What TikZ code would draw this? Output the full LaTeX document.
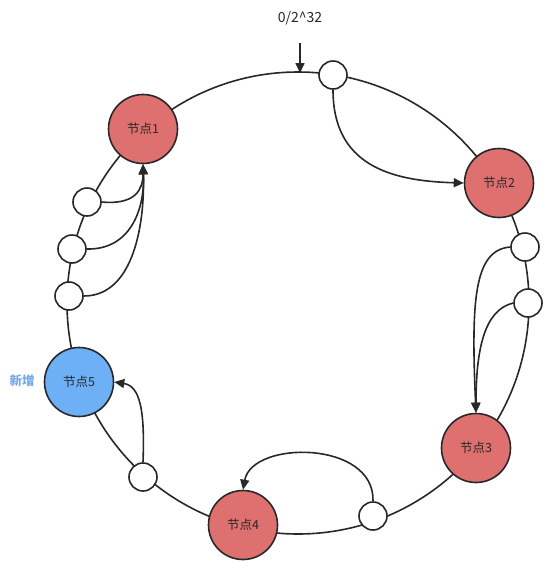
\documentclass[tikz,border=0pt]{standalone}
\usepackage{fontspec}
\newfontfamily\cjk{Noto Sans CJK SC}
\usetikzlibrary{arrows.meta}
\definecolor{nodered}{RGB}{222,112,112}
\definecolor{nodeblue}{RGB}{110,176,245}
\definecolor{lblblue}{RGB}{120,168,228}
\definecolor{ink}{RGB}{40,40,40}
\begin{document}
\begin{tikzpicture}[x=1pt,y=-1pt,
  hashnode/.style={circle, draw=ink, line width=1.6pt, minimum size=69pt, inner sep=0pt,
    font=\cjk\fontsize{12.5}{14}\selectfont, text=ink},
  vnode/.style={circle, draw=ink, line width=1.6pt, fill=white, minimum size=28pt, inner sep=0pt},
  ring/.style={draw=ink, line width=1.6pt},
  link/.style={draw=ink, line width=1.6pt, -{Triangle[length=10pt,width=9pt]}},
  lbl/.style={font=\cjk\fontsize{12.5}{14}\selectfont, text=ink, inner sep=0pt}]
\useasboundingbox (0,0) rectangle (552,571);
\draw[ring] (298,303) circle[radius=231pt];
% hash nodes
\node[hashnode, fill=nodered] (n1) at (143,129) {节点1};
\node[hashnode, fill=nodered] (n2) at (499,183) {节点2};
\node[hashnode, fill=nodered] (n3) at (476,448) {节点3};
\node[hashnode, fill=nodered] (n4) at (243,525) {节点4};
\node[hashnode, fill=nodeblue] (n5) at (79,382) {节点5};
% virtual / data points
\node[vnode] (s0) at (333,75) {};
\node[vnode] (s1) at (525,247) {};
\node[vnode] (s2) at (528,303) {};
\node[vnode] (s3) at (373,516) {};
\node[vnode] (s4) at (143,477) {};
\node[vnode] (s5) at (87,202) {};
\node[vnode] (s6) at (72,249) {};
\node[vnode] (s7) at (69,296) {};
% labels
\node[lbl, font=\cjk\fontsize{14}{16}\selectfont] (top) at (300,18) {0/2\^{}32};
\node[lbl, text=lblblue, font=\cjk\bfseries\fontsize{12.5}{14}\selectfont] (add) at (22,381) {新增};
\coordinate (ta) at (300,43);
\coordinate (tb) at (300,73);
\draw[link] (ta) -- (tb);
% connectors
\draw[link] (s0.south) .. controls (333,165) and (390,181) .. (n2.west);
\draw[link] (s1.west) .. controls (474,250) and (471,300) .. (n3.north);
\draw[link] (s2.west) .. controls (484,310) and (476,350) .. (n3.north);
\draw[link] (s3.north) .. controls (375,440) and (252,440) .. (n4.north);
\draw[link] (s4.north) .. controls (145,410) and (140,386) .. (n5.east);
\draw[link] (s5.east) .. controls (135,205) and (143,190) .. (n1.south);
\draw[link] (s6.east) .. controls (130,250) and (145,210) .. (n1.south);
\draw[link] (s7.east) .. controls (135,296) and (145,220) .. (n1.south);
\end{tikzpicture}
\end{document}
